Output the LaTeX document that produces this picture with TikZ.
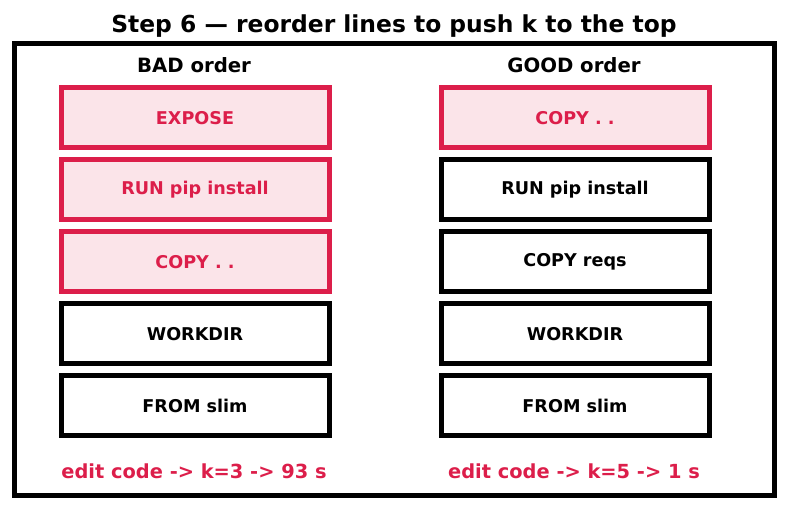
\documentclass[tikz,border=0pt]{standalone}
\usepackage{fontspec}
\setmainfont{DejaVu Sans}
\definecolor{hot}{RGB}{220,30,74}
\definecolor{hotfill}{RGB}{251,228,233}
\begin{document}
\begin{tikzpicture}[x=1pt,y=-1pt,
  stepbox/.style={draw=black,line width=5pt,minimum width=268pt,minimum height=60pt,inner sep=0pt,font=\bfseries\fontsize{17.6}{20}\selectfont},
  hotbox/.style={stepbox,draw=hot,fill=hotfill,text=hot},
  head/.style={font=\bfseries\fontsize{19.7}{22}\selectfont},
  note/.style={font=\bfseries\fontsize{19.4}{22}\selectfont,text=hot}]
\useasboundingbox (0,0) rectangle (787,510);
\node[font=\bfseries\fontsize{23.4}{26}\selectfont] (title) at (394,26) {Step 6 — reorder lines to push k to the top};
\draw[line width=5pt] (14.5,43.5) rectangle (774,495);
\node[head] (badh) at (194,65.5) {BAD order};
\node[head] (goodh) at (574,65.5) {GOOD order};
\node[hotbox] (b1) at (195,118) {EXPOSE};
\node[hotbox] (b2) at (195,190) {RUN pip install};
\node[hotbox] (b3) at (195,262) {COPY . .};
\node[stepbox] (b4) at (195,334) {WORKDIR};
\node[stepbox] (b5) at (195,405.5) {FROM slim};
\node[hotbox] (g1) at (575,118) {COPY . .};
\node[stepbox] (g2) at (575,190) {RUN pip install};
\node[stepbox] (g3) at (575,262) {COPY reqs};
\node[stepbox] (g4) at (575,334) {WORKDIR};
\node[stepbox] (g5) at (575,405.5) {FROM slim};
\node[note] (bn) at (194,471.5) {edit code -> k=3 -> 93 s};
\node[note] (gn) at (574,471.5) {edit code -> k=5 -> 1 s};
\end{tikzpicture}
\end{document}
